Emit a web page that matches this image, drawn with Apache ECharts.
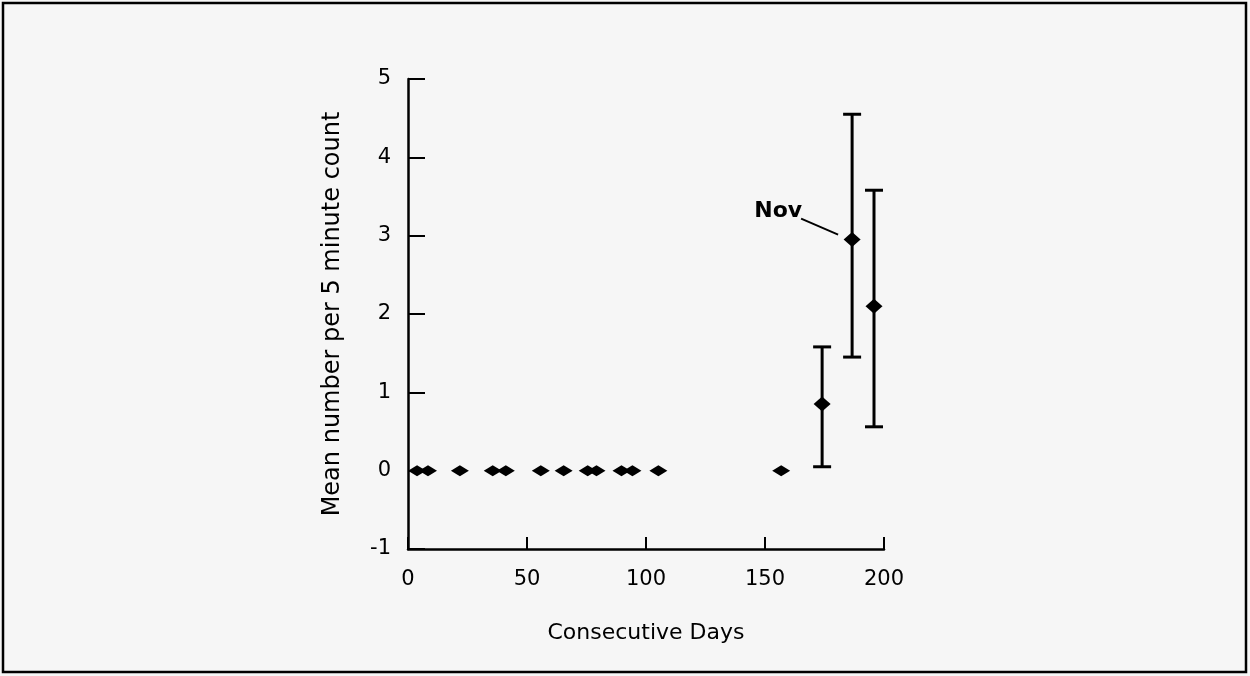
<!DOCTYPE html>
<html>
<head>
<meta charset="utf-8">
<script src="https://cdn.jsdelivr.net/npm/echarts@6/dist/echarts.min.js"></script>
<style>
  html, body { margin: 0; padding: 0; background: #f6f6f6; }
  #chart { width: 1250px; height: 676px; }
</style>
</head>
<body>
<div id="chart"></div>
<script>
// points sitting on zero
const zeroDays = [3.8, 8.4, 21.8, 35.6, 41.1, 55.8, 65.4, 75.5, 79.2, 89.7, 94.3, 105.2, 156.8]
const zeroMeans = [0, 0, 0, 0, 0, 0, 0, 0, 0, 0, 0, 0, 0]

// points with error bars
const errDays = [174, 186.6, 195.8]
const errMeans = [0.85, 2.95, 2.1]
const errLow = [0.05, 1.45, 0.56]
const errHigh = [1.58, 4.55, 3.58]

// annotation
const noteDay = 186.6
const noteValue = 2.95
const noteText = 'Nov'

const xTicks = [0, 50, 100, 150, 200]
const yTicks = [-1, 0, 1, 2, 3, 4, 5]

const font = 'DejaVu Sans'

let chart = echarts.init(document.getElementById('chart'))

let option = {
  backgroundColor: '#f6f6f6',
  animation: false,
  graphic: [{
    type: 'rect',
    shape: { x: 3, y: 3, width: 1243, height: 669 },
    style: { fill: 'none', stroke: '#000', lineWidth: 2.5 }
  }],
  grid: { left: 408, right: 366, top: 79, bottom: 127 },
  xAxis: {
    type: 'value',
    min: xTicks[0],
    max: xTicks[xTicks.length - 1],
    interval: 50,
    name: 'Consecutive Days',
    nameLocation: 'middle',
    nameGap: 73,
    nameTextStyle: { fontFamily: font, fontSize: 22, color: '#000' },
    axisLine: { onZero: false, lineStyle: { color: '#000', width: 2.5 } },
    axisTick: { inside: true, length: 12, lineStyle: { color: '#000', width: 2 } },
    axisLabel: { fontFamily: font, fontSize: 21, color: '#000', margin: 20 },
    splitLine: { show: false }
  },
  yAxis: {
    type: 'value',
    min: yTicks[0],
    max: yTicks[yTicks.length - 1],
    interval: 1,
    name: 'Mean number per 5 minute count',
    nameLocation: 'middle',
    nameGap: 63,
    nameTextStyle: { fontFamily: font, fontSize: 24, color: '#000' },
    axisLine: { onZero: false, lineStyle: { color: '#000', width: 2.5 } },
    axisTick: { inside: true, length: 17, lineStyle: { color: '#000', width: 2 } },
    axisLabel: { fontFamily: font, fontSize: 21, color: '#000', margin: 17 },
    splitLine: { show: false }
  },
  series: [{
    type: 'scatter',
    symbol: 'diamond',
    symbolSize: [18, 11],
    itemStyle: { color: '#000', opacity: 1 },
    data: zeroDays.map((d, i) => [d, zeroMeans[i]]),
    z: 3
  }, {
    type: 'custom',
    data: errDays.map((d, i) => [d, errLow[i], errHigh[i]]),
    renderItem: function (params, api) {
      let lo = api.coord([api.value(0), api.value(1)])
      let hi = api.coord([api.value(0), api.value(2)])
      let half = 9
      let style = { stroke: '#000', lineWidth: 3 }
      return {
        type: 'group',
        children: [
          { type: 'line', shape: { x1: lo[0], y1: lo[1], x2: hi[0], y2: hi[1] }, style: style },
          { type: 'line', shape: { x1: lo[0] - half, y1: lo[1], x2: lo[0] + half, y2: lo[1] }, style: style },
          { type: 'line', shape: { x1: hi[0] - half, y1: hi[1], x2: hi[0] + half, y2: hi[1] }, style: style }
        ]
      }
    },
    z: 2
  }, {
    type: 'scatter',
    symbol: 'diamond',
    symbolSize: [17, 15],
    itemStyle: { color: '#000', opacity: 1 },
    data: errDays.map((d, i) => [d, errMeans[i]]),
    z: 3
  }, {
    type: 'custom',
    data: [[noteDay, noteValue]],
    renderItem: function (params, api) {
      let p = api.coord([api.value(0), api.value(1)])
      return {
        type: 'group',
        children: [
          { type: 'line', shape: { x1: p[0] - 14, y1: p[1] - 5, x2: p[0] - 51, y2: p[1] - 21 }, style: { stroke: '#000', lineWidth: 2 } },
          { type: 'text', x: p[0] - 50, y: p[1] - 28, style: { text: noteText, fontFamily: font, fontSize: 22, fontWeight: 'bold', fill: '#000', align: 'right', verticalAlign: 'middle' } }
        ]
      }
    },
    z: 4
  }]
}

chart.setOption(option)
</script>
</body>
</html>
